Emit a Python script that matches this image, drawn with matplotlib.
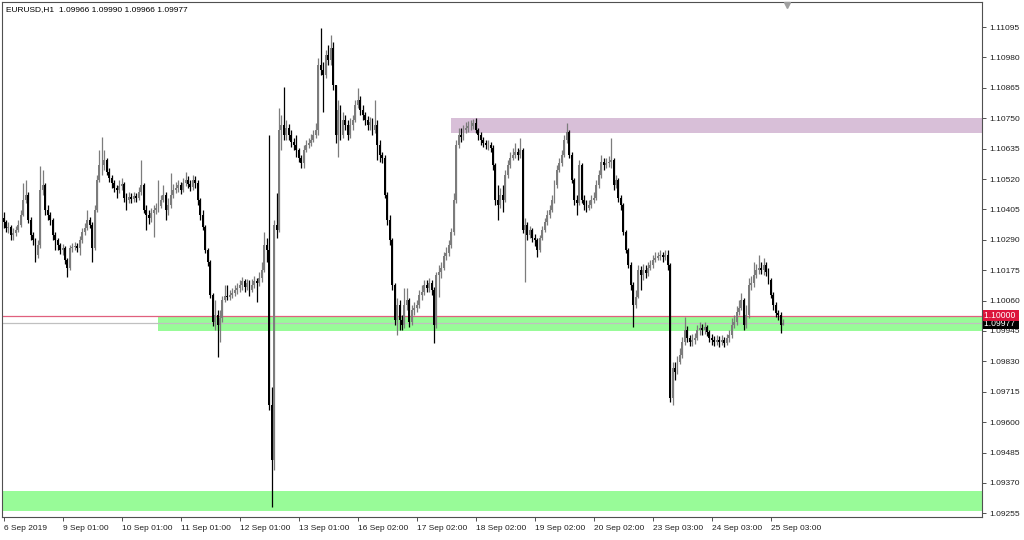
import numpy as np
import matplotlib.pyplot as plt
import matplotlib.transforms as mtransforms

plt.rcParams['font.family'] = ['Liberation Sans', 'DejaVu Sans']

# EURUSD H1 bars, 6 Sep 2019 00:00 -> 25 Sep 2019 08:00 (open = previous close)
first_open = 1.10373
close = [
    1.10358, 1.10335, 1.10339, 1.10309, 1.10316, 1.10328, 1.10347, 1.10384, 1.10441, 1.10460,
    1.10365, 1.10309, 1.10290, 1.10233, 1.10271, 1.10479, 1.10498, 1.10403, 1.10384, 1.10365,
    1.10309, 1.10290, 1.10271, 1.10252, 1.10260, 1.10214, 1.10184, 1.10260, 1.10263, 1.10267,
    1.10260, 1.10290, 1.10320, 1.10335, 1.10365, 1.10347, 1.10260, 1.10403, 1.10517, 1.10573,
    1.10573, 1.10592, 1.10547, 1.10524, 1.10505, 1.10486, 1.10479, 1.10494, 1.10502, 1.10449,
    1.10441, 1.10452, 1.10445, 1.10456, 1.10449, 1.10471, 1.10498, 1.10403, 1.10384, 1.10373,
    1.10392, 1.10403, 1.10411, 1.10418, 1.10441, 1.10460, 1.10403, 1.10422, 1.10460, 1.10479,
    1.10486, 1.10498, 1.10479, 1.10505, 1.10517, 1.10502, 1.10490, 1.10517, 1.10505, 1.10441,
    1.10384, 1.10339, 1.10252, 1.10207, 1.10082, 1.09980, 1.10006, 1.09969, 1.09995, 1.10063,
    1.10078, 1.10074, 1.10082, 1.10089, 1.10101, 1.10108, 1.10120, 1.10135, 1.10112, 1.10127,
    1.10101, 1.10120, 1.10135, 1.10127, 1.10146, 1.10176, 1.10271, 1.10252, 1.09666, 1.09458,
    1.10347, 1.10328, 1.10706, 1.10725, 1.10687, 1.10713, 1.10687, 1.10660, 1.10649, 1.10630,
    1.10600, 1.10581, 1.10630, 1.10649, 1.10656, 1.10668, 1.10687, 1.10706, 1.10951, 1.10932,
    1.10914, 1.10989, 1.10970, 1.11016, 1.10876, 1.10687, 1.10781, 1.10687, 1.10743, 1.10725,
    1.10687, 1.10725, 1.10743, 1.10800, 1.10819, 1.10781, 1.10762, 1.10743, 1.10725, 1.10736,
    1.10706, 1.10725, 1.10649, 1.10611, 1.10600, 1.10460, 1.10365, 1.10290, 1.10120, 1.09987,
    1.10044, 1.09987, 1.09969, 1.10044, 1.10063, 1.09980, 1.10025, 1.10033, 1.10044, 1.10082,
    1.10093, 1.10120, 1.10108, 1.10127, 1.10101, 1.09969, 1.10158, 1.10169, 1.10184, 1.10229,
    1.10240, 1.10271, 1.10320, 1.10441, 1.10649, 1.10687, 1.10679, 1.10706, 1.10713, 1.10721,
    1.10721, 1.10732, 1.10706, 1.10687, 1.10668, 1.10656, 1.10649, 1.10649, 1.10638, 1.10573,
    1.10441, 1.10422, 1.10460, 1.10441, 1.10536, 1.10573, 1.10600, 1.10611, 1.10622, 1.10611,
    1.10630, 1.10328, 1.10347, 1.10309, 1.10328, 1.10297, 1.10290, 1.10252, 1.10297, 1.10328,
    1.10358, 1.10384, 1.10403, 1.10441, 1.10498, 1.10554, 1.10581, 1.10611, 1.10668, 1.10698,
    1.10611, 1.10517, 1.10441, 1.10430, 1.10573, 1.10441, 1.10422, 1.10411, 1.10422, 1.10441,
    1.10449, 1.10498, 1.10536, 1.10585, 1.10573, 1.10581, 1.10585, 1.10592, 1.10498, 1.10517,
    1.10449, 1.10422, 1.10320, 1.10252, 1.10195, 1.10120, 1.10044, 1.10074, 1.10176, 1.10158,
    1.10176, 1.10165, 1.10184, 1.10195, 1.10214, 1.10222, 1.10229, 1.10233, 1.10225, 1.10233,
    1.10195, 1.09693, 1.09806, 1.09791, 1.09829, 1.09855, 1.09904, 1.09950, 1.09919, 1.09904,
    1.09912, 1.09919, 1.09950, 1.09957, 1.09950, 1.09961, 1.09942, 1.09919, 1.09912, 1.09904,
    1.09912, 1.09904, 1.09912, 1.09900, 1.09919, 1.09931, 1.09969, 1.09980, 1.10018, 1.10033,
    1.10063, 1.09969, 1.10006, 1.10120, 1.10127, 1.10158, 1.10176, 1.10184, 1.10176, 1.10195,
    1.10169, 1.10139, 1.10082, 1.10044, 1.10014, 1.10006, 1.09966, 1.09977,
]
high = [
    1.10396, 1.10365, 1.10358, 1.10347, 1.10335, 1.10343, 1.10365, 1.10403, 1.10505, 1.10517,
    1.10471, 1.10377, 1.10320, 1.10297, 1.10290, 1.10570, 1.10554, 1.10505, 1.10422, 1.10396,
    1.10373, 1.10320, 1.10297, 1.10278, 1.10274, 1.10267, 1.10222, 1.10271, 1.10278, 1.10282,
    1.10278, 1.10305, 1.10335, 1.10354, 1.10403, 1.10377, 1.10358, 1.10422, 1.10536, 1.10630,
    1.10679, 1.10630, 1.10600, 1.10562, 1.10536, 1.10517, 1.10498, 1.10517, 1.10524, 1.10509,
    1.10468, 1.10471, 1.10468, 1.10471, 1.10468, 1.10490, 1.10592, 1.10505, 1.10422, 1.10403,
    1.10411, 1.10422, 1.10430, 1.10517, 1.10460, 1.10498, 1.10471, 1.10449, 1.10543, 1.10502,
    1.10509, 1.10517, 1.10509, 1.10524, 1.10547, 1.10532, 1.10517, 1.10536, 1.10532, 1.10517,
    1.10449, 1.10403, 1.10347, 1.10260, 1.10214, 1.10089, 1.10063, 1.10025, 1.10025, 1.10078,
    1.10120, 1.10120, 1.10101, 1.10108, 1.10120, 1.10127, 1.10139, 1.10150, 1.10142, 1.10142,
    1.10139, 1.10142, 1.10154, 1.10146, 1.10169, 1.10207, 1.10320, 1.10297, 1.10687, 1.09734,
    1.10365, 1.10468, 1.10789, 1.10762, 1.10868, 1.10743, 1.10728, 1.10706, 1.10675, 1.10687,
    1.10638, 1.10611, 1.10649, 1.10668, 1.10675, 1.10691, 1.10706, 1.10732, 1.10978, 1.11091,
    1.10963, 1.11008, 1.11027, 1.11065, 1.11038, 1.10876, 1.10819, 1.10800, 1.10774, 1.10762,
    1.10743, 1.10751, 1.10762, 1.10819, 1.10864, 1.10834, 1.10800, 1.10774, 1.10759, 1.10755,
    1.10751, 1.10819, 1.10743, 1.10668, 1.10622, 1.10611, 1.10471, 1.10384, 1.10297, 1.10127,
    1.10070, 1.10063, 1.10006, 1.10108, 1.10108, 1.10070, 1.10044, 1.10055, 1.10063, 1.10101,
    1.10120, 1.10139, 1.10139, 1.10146, 1.10139, 1.10112, 1.10169, 1.10195, 1.10207, 1.10244,
    1.10263, 1.10290, 1.10335, 1.10468, 1.10668, 1.10713, 1.10713, 1.10725, 1.10736, 1.10740,
    1.10743, 1.10747, 1.10751, 1.10713, 1.10698, 1.10679, 1.10668, 1.10668, 1.10660, 1.10649,
    1.10581, 1.10498, 1.10486, 1.10498, 1.10554, 1.10592, 1.10622, 1.10638, 1.10656, 1.10638,
    1.10675, 1.10638, 1.10373, 1.10358, 1.10343, 1.10335, 1.10312, 1.10297, 1.10309, 1.10343,
    1.10373, 1.10403, 1.10422, 1.10460, 1.10517, 1.10573, 1.10600, 1.10630, 1.10687, 1.10732,
    1.10706, 1.10622, 1.10524, 1.10460, 1.10592, 1.10581, 1.10460, 1.10441, 1.10441, 1.10460,
    1.10471, 1.10517, 1.10554, 1.10611, 1.10600, 1.10600, 1.10607, 1.10675, 1.10600, 1.10536,
    1.10524, 1.10460, 1.10430, 1.10328, 1.10260, 1.10207, 1.10131, 1.10101, 1.10195, 1.10192,
    1.10199, 1.10195, 1.10207, 1.10214, 1.10233, 1.10244, 1.10244, 1.10252, 1.10244, 1.10252,
    1.10252, 1.10203, 1.09829, 1.09829, 1.09851, 1.09882, 1.09923, 1.09999, 1.09965, 1.09931,
    1.09934, 1.09938, 1.09969, 1.09980, 1.09972, 1.09980, 1.09969, 1.09950, 1.09934, 1.09927,
    1.09931, 1.09927, 1.09931, 1.09923, 1.09934, 1.09950, 1.09995, 1.10006, 1.10040, 1.10063,
    1.10089, 1.10070, 1.10044, 1.10146, 1.10154, 1.10207, 1.10199, 1.10233, 1.10207, 1.10222,
    1.10207, 1.10184, 1.10146, 1.10093, 1.10055, 1.10025, 1.10018, 1.09990,
]
low = [
    1.10335, 1.10320, 1.10316, 1.10290, 1.10290, 1.10305, 1.10320, 1.10339, 1.10380, 1.10430,
    1.10354, 1.10290, 1.10271, 1.10207, 1.10222, 1.10260, 1.10460, 1.10384, 1.10365, 1.10347,
    1.10290, 1.10252, 1.10252, 1.10237, 1.10233, 1.10199, 1.10150, 1.10176, 1.10244, 1.10252,
    1.10244, 1.10233, 1.10278, 1.10309, 1.10328, 1.10335, 1.10207, 1.10252, 1.10396, 1.10509,
    1.10536, 1.10554, 1.10536, 1.10509, 1.10486, 1.10471, 1.10449, 1.10468, 1.10479, 1.10433,
    1.10403, 1.10430, 1.10430, 1.10433, 1.10433, 1.10441, 1.10460, 1.10392, 1.10328, 1.10350,
    1.10358, 1.10301, 1.10388, 1.10396, 1.10411, 1.10433, 1.10365, 1.10384, 1.10411, 1.10449,
    1.10468, 1.10471, 1.10464, 1.10471, 1.10494, 1.10486, 1.10475, 1.10479, 1.10486, 1.10422,
    1.10365, 1.10328, 1.10240, 1.10192, 1.10070, 1.09965, 1.09950, 1.09848, 1.09904, 1.09980,
    1.10055, 1.10063, 1.10063, 1.10070, 1.10078, 1.10086, 1.10093, 1.10101, 1.10093, 1.10101,
    1.10078, 1.10093, 1.10108, 1.10055, 1.10116, 1.10131, 1.10169, 1.10207, 1.09647, 1.09277,
    1.09420, 1.10297, 1.10320, 1.10630, 1.10668, 1.10668, 1.10668, 1.10641, 1.10630, 1.10604,
    1.10585, 1.10562, 1.10562, 1.10622, 1.10638, 1.10645, 1.10660, 1.10675, 1.10687, 1.10914,
    1.10774, 1.10902, 1.10951, 1.10951, 1.10857, 1.10656, 1.10604, 1.10668, 1.10675, 1.10706,
    1.10668, 1.10675, 1.10706, 1.10736, 1.10789, 1.10762, 1.10743, 1.10725, 1.10706, 1.10706,
    1.10687, 1.10694, 1.10592, 1.10585, 1.10581, 1.10449, 1.10347, 1.10271, 1.10101, 1.09969,
    1.09931, 1.09950, 1.09950, 1.09957, 1.10025, 1.09961, 1.09969, 1.10006, 1.10018, 1.10033,
    1.10063, 1.10082, 1.10093, 1.10093, 1.10082, 1.09900, 1.09957, 1.10074, 1.10146, 1.10176,
    1.10214, 1.10229, 1.10260, 1.10309, 1.10430, 1.10638, 1.10660, 1.10668, 1.10694, 1.10698,
    1.10706, 1.10709, 1.10694, 1.10668, 1.10649, 1.10641, 1.10634, 1.10630, 1.10622, 1.10554,
    1.10422, 1.10365, 1.10411, 1.10396, 1.10433, 1.10524, 1.10562, 1.10592, 1.10600, 1.10592,
    1.10600, 1.10316, 1.10131, 1.10290, 1.10297, 1.10282, 1.10267, 1.10225, 1.10244, 1.10290,
    1.10320, 1.10347, 1.10373, 1.10396, 1.10430, 1.10486, 1.10547, 1.10570, 1.10604, 1.10656,
    1.10600, 1.10505, 1.10422, 1.10384, 1.10422, 1.10430, 1.10403, 1.10396, 1.10403, 1.10411,
    1.10430, 1.10441, 1.10486, 1.10524, 1.10554, 1.10562, 1.10566, 1.10562, 1.10479, 1.10486,
    1.10433, 1.10403, 1.10309, 1.10240, 1.10184, 1.10101, 1.09961, 1.10033, 1.10070, 1.10101,
    1.10139, 1.10146, 1.10154, 1.10176, 1.10184, 1.10207, 1.10214, 1.10214, 1.10207, 1.10214,
    1.10176, 1.09677, 1.09666, 1.09761, 1.09783, 1.09821, 1.09844, 1.09893, 1.09904, 1.09889,
    1.09889, 1.09897, 1.09912, 1.09931, 1.09931, 1.09934, 1.09927, 1.09904, 1.09893, 1.09889,
    1.09893, 1.09885, 1.09893, 1.09885, 1.09893, 1.09904, 1.09919, 1.09957, 1.09969, 1.10006,
    1.10025, 1.09950, 1.09957, 1.09995, 1.10101, 1.10112, 1.10146, 1.10161, 1.10161, 1.10158,
    1.10154, 1.10123, 1.10070, 1.10025, 1.09999, 1.09987, 1.09938, 1.09966,
]

# time axis labels (every 24 bars)
tick_bars = [0, 24, 48, 72, 96, 120, 144, 168, 192, 216, 240, 264, 288, 312]
tick_labels = ['6 Sep 2019', '9 Sep 01:00', '10 Sep 01:00', '11 Sep 01:00', '12 Sep 01:00',
               '13 Sep 01:00', '16 Sep 02:00', '17 Sep 02:00', '18 Sep 02:00', '19 Sep 02:00',
               '20 Sep 02:00', '23 Sep 03:00', '24 Sep 03:00', '25 Sep 03:00']
price_ticks = [1.09255, 1.09370, 1.09485, 1.09600, 1.09715, 1.09830, 1.09945, 1.10060,
               1.10175, 1.10290, 1.10405, 1.10520, 1.10635, 1.10750, 1.10865, 1.10980, 1.11095]

# zones drawn on the chart: (start bar, top, bottom)
resistance_zone = (181.9, 1.10751, 1.10694)
support_zone = (62.8, 1.10003, 1.09945)
low_zone = (-1.0, 1.09340, 1.09264)
level_line = 1.10000
bid_price = 1.09977
header = 'EURUSD,H1  1.09966 1.09990 1.09966 1.09977'

close = np.array(close)
high = np.array(high)
low = np.array(low)
opn = np.concatenate([[first_open], close[:-1]])
x = np.arange(len(close))

fig = plt.figure(figsize=(10.24, 5.40), dpi=100)
ax = fig.add_axes([2 / 1024, 1 - 517 / 540, 980 / 1024, 515 / 540])
ax.set_xlim(-0.61, 397.8)
ax.set_ylim(1.09241, 1.11190)

# zones
x_right = ax.get_xlim()[1]
for start, top, bot, col in [(resistance_zone[0], resistance_zone[1], resistance_zone[2], '#d8bfd8'),
                             (support_zone[0], support_zone[1], support_zone[2], '#98fb98'),
                             (low_zone[0], low_zone[1], low_zone[2], '#98fb98')]:
    ax.fill_between([start, x_right], top, bot, color=col, lw=0, zorder=0)

# horizontal level and bid line
ax.axhline(level_line, color='#e0607e', lw=0.9, zorder=1)
ax.axhline(bid_price, color='#c0c0c0', lw=0.9, zorder=1)

# candles
up = close >= opn
colors = np.where(up, '#7c7c7c', '#000000')
ax.vlines(x, low, high, colors=colors, lw=0.9, zorder=2)
body_h = np.maximum(np.abs(close - opn), 0.000015)
ax.bar(x, body_h, bottom=np.minimum(opn, close), width=0.78, color=colors, lw=0, zorder=3)

# axes styling
for s in ax.spines.values():
    s.set_color('#505050')
    s.set_linewidth(0.8)
ax.yaxis.tick_right()
ax.set_yticks(price_ticks)
ax.set_yticklabels(['%.5f' % p for p in price_ticks])
ax.set_xticks(tick_bars)
ax.set_xticklabels(tick_labels)
for lab in ax.get_xticklabels():
    lab.set_horizontalalignment('left')
ax.tick_params(axis='both', direction='out', length=3, width=0.7, color='#505050',
               labelsize=6.0, labelcolor='#202020')
ax.tick_params(axis='x', pad=3)
ax.tick_params(axis='y', pad=2)

# price labels on the right scale
trans = mtransforms.blended_transform_factory(ax.transAxes, ax.transData)
ax.text(1.0025, level_line + 0.00002, '1.10000 ', transform=trans, fontsize=6.2, color='white',
        va='center', ha='left', zorder=6,
        bbox=dict(boxstyle='square,pad=0.12', fc='#dc143c', ec='none'))
ax.text(1.0025, bid_price - 0.00002, '1.09977 ', transform=trans, fontsize=6.2, color='white',
        va='center', ha='left', zorder=5,
        bbox=dict(boxstyle='square,pad=0.12', fc='black', ec='none'))

# chart shift marker
trans2 = mtransforms.blended_transform_factory(ax.transData, ax.transAxes)
ax.plot([len(close) + 0.5], [0.995], marker='v', ms=4, color='#a0a0a0', transform=trans2,
        clip_on=False, zorder=5)

ax.text(4 / 980, 1 - 8 / 515, header, transform=ax.transAxes, fontsize=6.0, va='center',
        ha='left', color='black')

plt.savefig('out.png', dpi=100, facecolor='white')
